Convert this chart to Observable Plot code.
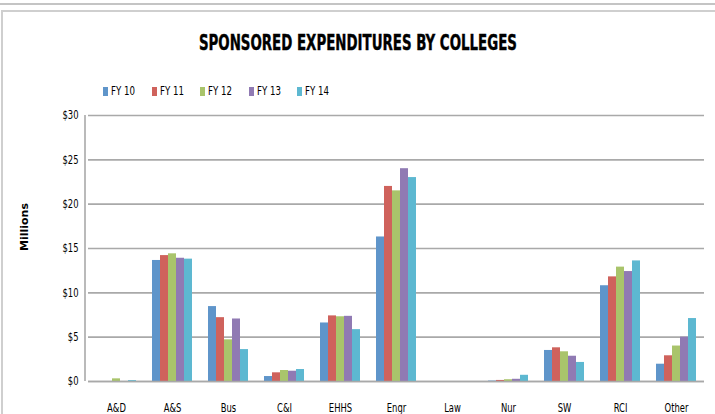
<!DOCTYPE html>
<html>
<head>
<meta charset="utf-8">
<script src="https://cdn.jsdelivr.net/npm/d3@7"></script>
<script src="https://cdn.jsdelivr.net/npm/@observablehq/plot@0.6"></script>
<style>
  html, body { margin: 0; padding: 0; background: #fff; }
  #wrap { position: relative; width: 715px; height: 414px; overflow: hidden; background: #fff; }
  #topline { position: absolute; left: 0; top: 3px; width: 715px; height: 2px; background: #c4c4c4; }
  #frame { position: absolute; left: 1px; top: 10px; width: 760px; height: 600px; border: 2px solid #cfcfcf; box-sizing: border-box; }
  #title { position: absolute; top: 31px; left: 0; width: 715px; text-align: center; }
  #title span { display: inline-block; font-family: "Liberation Sans Narrow", "DejaVu Sans Condensed", "Arial Narrow", sans-serif; font-weight: bold; font-size: 21px; color: #000; white-space: nowrap; transform-origin: 50% 50%; -webkit-text-stroke: 0.4px #000; }
  #legend { position: absolute; top: 81px; left: 103px; height: 16px; white-space: nowrap; }
  .item { display: inline-block; width: 48.6px; font-family: "Liberation Sans Narrow", "DejaVu Sans Condensed", sans-serif; font-size: 12px; line-height: 15px; color: #000; }
  .sw { display: inline-block; width: 5px; height: 9px; margin-right: 3px; vertical-align: -1px; }
  .lt { display: inline-block; transform: scaleX(0.8); transform-origin: 0 50%; }
  #ylab { position: absolute; left: 24px; top: 227px; transform: translate(-50%, -50%) rotate(-90deg); font-family: "DejaVu Sans", sans-serif; font-weight: bold; font-size: 11px; color: #000; white-space: nowrap; }
  #chart { position: absolute; left: 0; top: 100px; }
</style>
</head>
<body>
<div id="wrap">
  <div id="topline"></div>
  <div id="frame"></div>
  <div id="title"><span id="titletext">SPONSORED EXPENDITURES BY COLLEGES</span></div>
  <div id="legend"></div>
  <div id="ylab">Millions</div>
  <div id="chart"></div>
</div>
<script>
const colleges = ["A&D", "A&S", "Bus", "C&I", "EHHS", "Engr", "Law", "Nur", "SW", "RCI", "Other"];
const years = ["FY 10", "FY 11", "FY 12", "FY 13", "FY 14"];
const colors = ["#5F95CA", "#CF625C", "#A9C46B", "#907AB3", "#5DB8D1"];
const fy10 = [0, 13.65, 8.45, 0.56, 6.6, 16.3, 0, 0.05, 3.5, 10.8, 1.95];
const fy11 = [0, 14.2, 7.2, 0.98, 7.4, 22.0, 0, 0.12, 3.8, 11.8, 2.9];
const fy12 = [0.3, 14.4, 4.7, 1.24, 7.3, 21.5, 0, 0.2, 3.35, 12.9, 4.0];
const fy13 = [0, 13.9, 7.05, 1.16, 7.35, 24.0, 0, 0.25, 2.85, 12.4, 5.0];
const fy14 = [0.1, 13.8, 3.6, 1.35, 5.85, 23.0, 0, 0.7, 2.15, 13.6, 7.1];
const yTicks = [0, 5, 10, 15, 20, 25, 30];

const series = [fy10, fy11, fy12, fy13, fy14];
const data = [];
colleges.forEach((c, i) => {
  years.forEach((y, j) => data.push({college: c, year: y, value: series[j][i]}));
});

// legend
const legend = document.getElementById("legend");
years.forEach((y, j) => {
  const it = document.createElement("span");
  it.className = "item";
  const sw = document.createElement("span");
  sw.className = "sw";
  sw.style.background = colors[j];
  it.appendChild(sw);
  const t = document.createElement("span");
  t.className = "lt";
  t.textContent = y;
  it.appendChild(t);
  legend.appendChild(it);
});

// title width fit
const tt = document.getElementById("titletext");
const w = tt.getBoundingClientRect().width;
tt.style.transform = `scaleX(${318 / w})`;

const gridColor = "#a9a9a9";
const plot = Plot.plot({
  width: 715,
  height: 314,
  marginTop: 15,
  marginBottom: 33,
  marginLeft: 85,
  marginRight: 8,
  style: {fontFamily: "'Liberation Sans Narrow', 'DejaVu Sans Condensed', sans-serif", fontSize: "12px", color: "#000", background: "transparent"},
  fx: {domain: colleges, padding: 0, label: null, tickSize: 0, tickPadding: 22},
  x: {domain: years, paddingInner: 0, paddingOuter: 0.78, axis: null},
  y: {domain: [0, 30], ticks: yTicks, label: null, tickSize: 0, tickPadding: 10, tickFormat: d => "$" + d},
  color: {domain: years, range: colors},
  marks: [
    Plot.gridY(yTicks, {stroke: gridColor, strokeOpacity: 1, strokeWidth: 1.6}),
    Plot.barY(data, {fx: "college", x: "year", y: "value", fill: "year", inset: 0}),
    Plot.ruleY([0], {stroke: gridColor, strokeWidth: 1.6})
  ]
});
document.getElementById("chart").appendChild(plot);

// condense tick label glyphs horizontally around their anchor
d3.select(plot).selectAll("text").each(function () {
  const tr = this.getAttribute("transform");
  if (tr) this.setAttribute("transform", tr + " scale(0.78,1)");
});

// vertical value-axis line along the left edge of the plot area
const ys = plot.scale("y");
const fxs = plot.scale("fx");
const x0 = Math.min(...fxs.range);
d3.select(plot).append("line")
  .attr("x1", x0).attr("x2", x0)
  .attr("y1", ys.apply(30)).attr("y2", ys.apply(0))
  .attr("stroke", gridColor).attr("stroke-width", 1.6);
</script>
</body>
</html>
